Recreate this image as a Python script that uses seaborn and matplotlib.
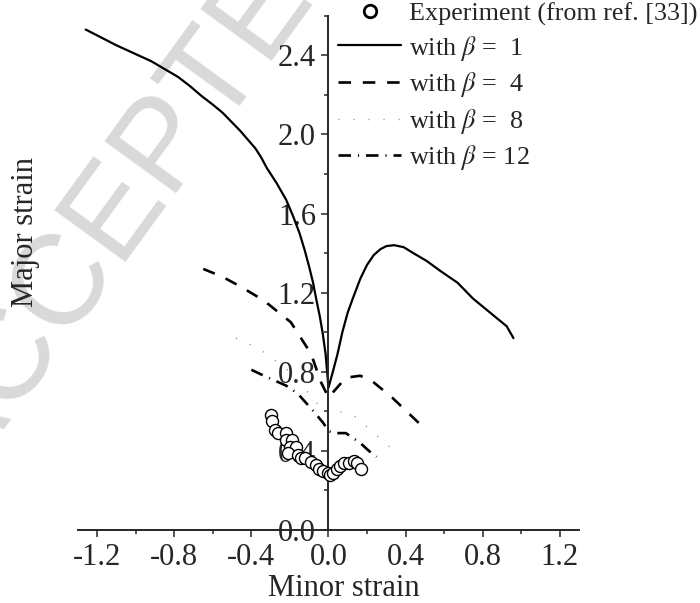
import matplotlib
matplotlib.use('Agg')
import pandas as pd
import seaborn as sns
import matplotlib.pyplot as plt
from matplotlib.lines import Line2D
from matplotlib.ticker import MultipleLocator, FormatStrFormatter

# Experimental points (minor strain, major strain)
exp_x = [-0.30, -0.295, -0.28, -0.26, -0.22, -0.22, -0.19, -0.20, -0.17, -0.21, -0.16, -0.145, -0.12,
         -0.093, -0.067, -0.05, -0.03, -0.005, 0.01, 0.026, 0.046, 0.062, 0.078, 0.104, 0.13, 0.15, 0.17]
exp_y = [0.58, 0.55, 0.505, 0.49, 0.49, 0.455, 0.455, 0.42, 0.42, 0.39, 0.38, 0.365, 0.365,
         0.345, 0.33, 0.31, 0.30, 0.29, 0.28, 0.29, 0.31, 0.325, 0.34, 0.34, 0.35, 0.34, 0.31]

# Predicted FLCs
b1_x = [-1.26, -1.18, -1.1, -1.01, -0.92, -0.85, -0.78, -0.72, -0.66, -0.60, -0.55, -0.50, -0.46, -0.42,
        -0.38, -0.35, -0.32, -0.27, -0.22, -0.185, -0.15, -0.125, -0.10, -0.08, -0.062, -0.045, -0.03,
        -0.015, 0.0, 0.02, 0.047, 0.072, 0.10, 0.13, 0.165, 0.20, 0.235, 0.27, 0.30, 0.34, 0.39, 0.44,
        0.51, 0.58, 0.67, 0.75, 0.85, 0.925, 0.96]
b1_y = [2.53, 2.49, 2.45, 2.41, 2.37, 2.33, 2.29, 2.245, 2.195, 2.15, 2.11, 2.06, 2.02, 1.975,
        1.93, 1.885, 1.83, 1.755, 1.67, 1.59, 1.50, 1.42, 1.33, 1.25, 1.16, 1.08, 0.995,
        0.89, 0.72, 0.79, 0.89, 1.00, 1.10, 1.18, 1.27, 1.34, 1.39, 1.42, 1.435, 1.44, 1.43, 1.40,
        1.36, 1.31, 1.25, 1.17, 1.09, 1.03, 0.97]

b4_x = [-0.65, -0.55, -0.455, -0.335, -0.195, -0.09, -0.04, 0.0, 0.045, 0.09, 0.165, 0.23, 0.33, 0.47]
b4_y = [1.32, 1.28, 1.23, 1.16, 1.05, 0.89, 0.75, 0.67, 0.72, 0.77, 0.78, 0.75, 0.67, 0.54]

b8_x = [-0.48, -0.39, -0.32, -0.20, -0.11, -0.05, 0.0, 0.05, 0.13, 0.20, 0.26, 0.33]
b8_y = [0.97, 0.93, 0.89, 0.80, 0.70, 0.63, 0.58, 0.60, 0.58, 0.52, 0.47, 0.41]

b12_x = [-0.40, -0.335, -0.22, -0.16, -0.077, -0.026, 0.0, 0.035, 0.09, 0.165, 0.21, 0.25]
b12_y = [0.81, 0.78, 0.73, 0.69, 0.60, 0.54, 0.50, 0.49, 0.49, 0.44, 0.40, 0.37]

labels = ['Experiment (from ref. [33])', r'with $\beta$ =  1', r'with $\beta$ =  4',
          r'with $\beta$ =  8', r'with $\beta$ = 12']

sns.set_style('ticks')
plt.rcParams['font.family'] = ['Liberation Serif', 'DejaVu Serif']
plt.rcParams['mathtext.fontset'] = 'stix'
plt.rcParams['lines.scale_dashes'] = False

fig = plt.figure(figsize=(7, 6.03), dpi=100)
ax = fig.add_axes([0.1114, 0.121, 0.7157, 0.853])
ax.patch.set_visible(False)

# faint watermark behind everything
fig.text(0.20, 0.69, 'ACCEPTED', rotation=54, ha='center', va='center', rotation_mode='anchor',
         fontsize=92, color='#d9d9d9', family='Liberation Sans', zorder=-5)

styles = {
    'b1': dict(color='black', lw=1.6, linestyle='-'),
    'b4': dict(color='black', lw=1.9, linestyle=(0, (9, 8.5))),
    'b8': dict(color='0.55', lw=1.0, linestyle=(0, (0.8, 10))),
    'b12': dict(color='black', lw=1.9, linestyle=(0, (9, 5, 0.8, 5))),
}

curves = {'b1': (b1_x, b1_y), 'b4': (b4_x, b4_y), 'b8': (b8_x, b8_y), 'b12': (b12_x, b12_y)}
for key, (xs, ys) in curves.items():
    df = pd.DataFrame({'x': xs, 'y': ys})
    sns.lineplot(data=df, x='x', y='y', sort=False, estimator=None, ax=ax, **styles[key])

exp_df = pd.DataFrame({'x': exp_x, 'y': exp_y})
sns.scatterplot(data=exp_df, x='x', y='y', ax=ax, marker='o', s=75, facecolor='white',
                edgecolor='black', linewidth=1.0, zorder=5)

ax.set_xlim(-1.3, 1.3)
ax.set_ylim(0, 2.6)
ax.spines['left'].set_position(('data', 0))
ax.spines['right'].set_visible(False)
ax.spines['top'].set_visible(False)
for sp in ['left', 'bottom']:
    ax.spines[sp].set_linewidth(1.4)

ax.xaxis.set_major_locator(MultipleLocator(0.4))
ax.xaxis.set_minor_locator(MultipleLocator(0.2))
ax.yaxis.set_major_locator(MultipleLocator(0.4))
ax.yaxis.set_minor_locator(MultipleLocator(0.2))
ax.xaxis.set_major_formatter(FormatStrFormatter('%.1f'))
ax.yaxis.set_major_formatter(FormatStrFormatter('%.1f'))
ax.tick_params(which='major', direction='out', length=5, width=1.1, labelsize=22, pad=4)
ax.tick_params(which='minor', direction='out', length=3, width=1.1)

ax.set_xlabel('Minor strain', fontsize=22)
ax.set_ylabel('Major strain', fontsize=22)
ax.xaxis.set_label_coords(0.53, -0.085)
ax.yaxis.set_label_coords(-0.075, 0.58)

handles = [Line2D([], [], ls='none', marker='o', ms=9, mfc='white', mec='black', mew=2)]
for key in ['b1', 'b4', 'b8', 'b12']:
    handles.append(Line2D([], [], **styles[key]))
ax.legend(handles, labels, loc='upper left', bbox_to_anchor=(0.52, 1.026), frameon=False,
          fontsize=18.8, handlelength=2.4, handletextpad=0.3, labelspacing=0.29,
          borderpad=0, borderaxespad=0)

fig.savefig('out.png', dpi=100)
